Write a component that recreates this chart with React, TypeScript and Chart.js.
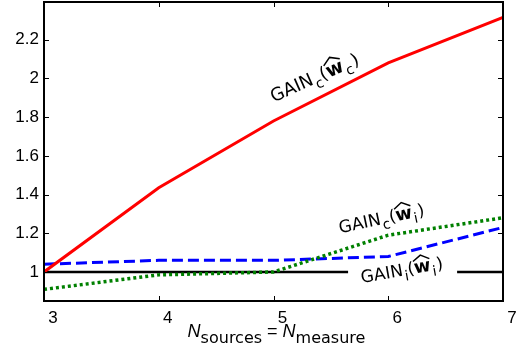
import React, { useEffect, useRef } from "react";
import { Chart, registerables } from "chart.js";

Chart.register(...registerables);

// ---- data ----
const X_VALUES = [3, 4, 5, 6, 7];
const GAIN_C_WC = [1.0, 1.435, 1.78, 2.08, 2.315];
const GAIN_I_WI_BLUE = [1.04, 1.06, 1.06, 1.08, 1.23];
const GAIN_C_WI = [0.91, 0.985, 1.0, 1.19, 1.28];
const REFERENCE = [1, 1, 1, 1, 1];
const X_TICKS = [3, 4, 5, 6, 7];
const Y_TICKS = [1, 1.2, 1.4, 1.6, 1.8, 2, 2.2];
const X_MIN = 3;
const X_MAX = 7;
const Y_MIN = 0.85;
const Y_MAX = 2.395;

// annotation anchors (data coords) and angles
const ANNOTATIONS = [
  { x: 5.0, y: 1.876, angle: -24, s1: "c", s2: "c", size: 18 },
  { x: 5.58, y: 1.2, angle: -12, s1: "c", s2: "i", size: 17 },
  { x: 5.77, y: 0.943, angle: -10, s1: "i", s2: "i", size: 17 },
];
const REF_GAP = [5.65, 6.6];

const TICK_FONT = '"Liberation Sans", Arial, sans-serif';
const LABEL_FONT = '"DejaVu Sans", sans-serif';

function drawGain(ctx: CanvasRenderingContext2D, px: number, py: number, angleDeg: number, s1: string, s2: string, size: number) {
  ctx.save();
  ctx.translate(px, py);
  ctx.rotate((angleDeg * Math.PI) / 180);
  ctx.fillStyle = "#000";
  ctx.strokeStyle = "#000";
  ctx.textBaseline = "alphabetic";
  ctx.textAlign = "left";
  const main = `${size}px ${LABEL_FONT}`;
  const sub = `${Math.round(size * 0.8)}px ${LABEL_FONT}`;
  const bold = `bold ${Math.round(size * 1.05)}px ${LABEL_FONT}`;
  let x = 0;
  ctx.font = main;
  ctx.fillText("GAIN", x, 0);
  x += ctx.measureText("GAIN").width;
  ctx.font = sub;
  ctx.fillText(s1, x + 1, size * 0.32);
  x += ctx.measureText(s1).width + 1;
  ctx.font = main;
  ctx.fillText("(", x, 0);
  x += ctx.measureText("(").width;
  ctx.font = bold;
  const ww = ctx.measureText("w").width;
  ctx.fillText("w", x, 0);
  ctx.beginPath();
  ctx.moveTo(x, -size * 0.72);
  ctx.lineTo(x + ww / 2, -size * 1.02);
  ctx.lineTo(x + ww, -size * 0.72);
  ctx.lineWidth = 1.5;
  ctx.stroke();
  x += ww;
  ctx.font = sub;
  ctx.fillText(s2, x + 1, size * 0.32);
  x += ctx.measureText(s2).width + 2;
  ctx.font = main;
  ctx.fillText(")", x, 0);
  ctx.restore();
}

const framePlugin = {
  id: "framePlugin",
  afterDatasetDraw(chart: any, args: any) {
    if (args.index !== 3) return;
    const ctx = chart.ctx as CanvasRenderingContext2D;
    const xs = chart.scales.x;
    const ys = chart.scales.y;
    const y1 = ys.getPixelForValue(1);
    ctx.save();
    ctx.fillStyle = "#fff";
    const a = xs.getPixelForValue(REF_GAP[0]);
    const b = xs.getPixelForValue(REF_GAP[1]);
    ctx.fillRect(a, y1 - 3, b - a, 6);
    ctx.restore();
  },
  afterDraw(chart: any) {
    const ctx = chart.ctx as CanvasRenderingContext2D;
    const { left, right, top, bottom } = chart.chartArea;
    const xs = chart.scales.x;
    const ys = chart.scales.y;
    ctx.save();
    ctx.strokeStyle = "#000";
    ctx.lineWidth = 2;
    ctx.strokeRect(left, top, right - left, bottom - top);
    ctx.lineWidth = 1;
    const tl = 5;
    ctx.beginPath();
    for (const v of X_TICKS) {
      const px = Math.round(xs.getPixelForValue(v)) + 0.5;
      ctx.moveTo(px, bottom);
      ctx.lineTo(px, bottom - tl);
      ctx.moveTo(px, top);
      ctx.lineTo(px, top + tl);
    }
    for (const v of Y_TICKS) {
      const py = Math.round(ys.getPixelForValue(v)) + 0.5;
      ctx.moveTo(left, py);
      ctx.lineTo(left + tl, py);
      ctx.moveTo(right, py);
      ctx.lineTo(right - tl, py);
    }
    ctx.stroke();

    for (const an of ANNOTATIONS) {
      drawGain(ctx, xs.getPixelForValue(an.x), ys.getPixelForValue(an.y), an.angle, an.s1, an.s2, an.size);
    }

    // x-axis title: N_sources = N_measure
    const big = `italic 18px ${TICK_FONT}`;
    const subF = `16px ${LABEL_FONT}`;
    const eqF = `18px ${TICK_FONT}`;
    const parts = [
      { t: "N", f: big, dy: 0 },
      { t: "sources", f: subF, dy: 6 },
      { t: " = ", f: eqF, dy: 0 },
      { t: "N", f: big, dy: 0 },
      { t: "measure", f: subF, dy: 6 },
    ];
    let total = 0;
    for (const p of parts) {
      ctx.font = p.f;
      total += ctx.measureText(p.t).width;
    }
    let x = (left + right) / 2 + 3 - total / 2;
    const base = 337;
    ctx.fillStyle = "#000";
    ctx.textBaseline = "alphabetic";
    ctx.textAlign = "left";
    for (const p of parts) {
      ctx.font = p.f;
      ctx.fillText(p.t, x, base + p.dy);
      x += ctx.measureText(p.t).width;
    }
    ctx.restore();
  },
};

export default function App() {
  const ref = useRef<HTMLCanvasElement | null>(null);
  useEffect(() => {
    if (!ref.current) return;
    const mk = (ys: number[]) => X_VALUES.map((x, i) => ({ x, y: ys[i] }));
    const chart = new Chart(ref.current, {
      type: "line",
      data: {
        datasets: [
          { label: "GAIN_c(w_c)", data: mk(GAIN_C_WC), borderColor: "#ff0000", borderWidth: 3, pointRadius: 0, tension: 0, order: 1 },
          { label: "GAIN_c(w_i)", data: mk(GAIN_C_WI), borderColor: "#008000", borderWidth: 3.5, borderDash: [3, 3], pointRadius: 0, tension: 0, order: 2 },
          { label: "GAIN_i(w_i)", data: mk(GAIN_I_WI_BLUE), borderColor: "#0000ff", borderWidth: 3, borderDash: [11, 5], pointRadius: 0, tension: 0, order: 3 },
          { label: "reference", data: mk(REFERENCE), borderColor: "#000000", borderWidth: 2.5, pointRadius: 0, tension: 0, order: 4 },
        ],
      },
      options: {
        responsive: false,
        animation: false,
        devicePixelRatio: 1,
        layout: { padding: { top: 2, right: 25, left: 0, bottom: 0 } },
        plugins: { legend: { display: false }, tooltip: { enabled: false } },
        scales: {
          x: {
            type: "linear",
            min: X_MIN,
            max: X_MAX,
            grid: { display: false, drawTicks: false },
            border: { display: false },
            afterBuildTicks: (s: any) => {
              s.ticks = X_TICKS.map((v) => ({ value: v }));
            },
            afterFit: (s: any) => {
              s.height = 50;
              s.paddingLeft = 0;
              s.paddingRight = 0;
            },
            ticks: {
              color: "#000",
              font: { family: TICK_FONT, size: 17 },
              padding: 7,
              labelOffset: 9,
              maxRotation: 0,
              autoSkip: false,
              callback: (v: any) => String(v),
            },
          },
          y: {
            type: "linear",
            min: Y_MIN,
            max: Y_MAX,
            grid: { display: false, drawTicks: false },
            border: { display: false },
            afterBuildTicks: (s: any) => {
              s.ticks = Y_TICKS.map((v) => ({ value: v }));
            },
            afterFit: (s: any) => {
              s.width = 44;
              s.paddingTop = 0;
              s.paddingBottom = 0;
            },
            ticks: {
              color: "#000",
              font: { family: TICK_FONT, size: 17 },
              padding: 5,
              autoSkip: false,
              callback: (v: any) => String(Math.round(v * 10) / 10),
            },
          },
        },
      },
      plugins: [framePlugin],
    });
    return () => chart.destroy();
  }, []);
  return (
    <div style={{ position: "fixed", left: 0, top: 0, width: 528, height: 351, background: "#fff" }}>
      <canvas ref={ref} width={528} height={351} style={{ width: 528, height: 351 }} />
    </div>
  );
}
